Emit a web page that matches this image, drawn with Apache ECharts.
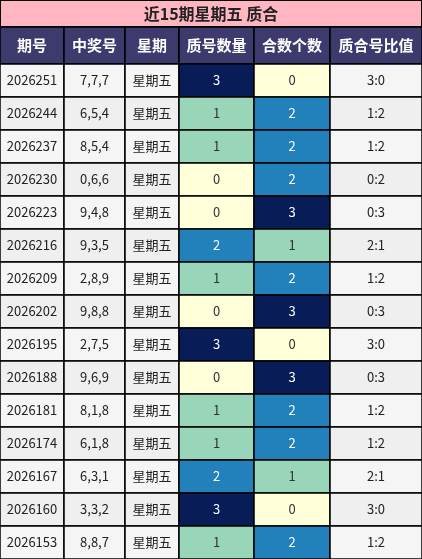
<!DOCTYPE html><html><head><meta charset="utf-8">
<script src="https://cdn.jsdelivr.net/npm/echarts@6/dist/echarts.min.js"></script>
<style>html,body{margin:0;padding:0;background:#fff}#c{width:422px;height:559px}</style></head><body><div id="c"></div>
<script>
const title = '近15期星期五 质合';
const headers = ['期号','中奖号','星期','质号数量','合数个数','质合号比值'];
const periods = ['2026251','2026244','2026237','2026230','2026223','2026216','2026209','2026202','2026195','2026188','2026181','2026174','2026167','2026160','2026153'];
const numbers = ['7,7,7','6,5,4','8,5,4','0,6,6','9,4,8','9,3,5','2,8,9','9,8,8','2,7,5','9,6,9','8,1,8','6,1,8','6,3,1','3,3,2','8,8,7'];
const weekday = '星期五';
const primeCount = [3,1,1,0,0,2,1,0,3,0,1,1,2,3,1];
const compositeCount = [0,2,2,2,3,1,2,3,0,3,2,2,1,0,2];

const colX = [0,64,125,179,254,330,422];
const titleH = 27, headH = 37, rowH = 33;
const heat = ['#ffffd9','#98d5b9','#2281bb','#081d58'];
const heatText = ['#333','#333','#fff','#fff'];
const font = '"Noto Sans CJK SC","Liberation Sans",sans-serif';

const cells = [];
headers.forEach((h,c)=>cells.push({r:-1,c,text:h}));
periods.forEach((p,r)=>{
  const ratio = primeCount[r]+':'+compositeCount[r];
  [p,numbers[r],weekday,primeCount[r],compositeCount[r],ratio].forEach((v,c)=>cells.push({r,c,text:String(v),val:v}));
});

const chart = echarts.init(document.getElementById('c'),null,{renderer:'canvas'});
chart.setOption({
  animation:false,
  graphic:[
    {type:'rect',shape:{x:0,y:0,width:422,height:titleH},style:{fill:'#ffb6c1',stroke:'#000',lineWidth:2}},
    {type:'text',x:211,y:titleH/2,style:{text:title,fill:'#222',font:'bold 16px '+font,align:'center',verticalAlign:'middle'}}
  ],
  series:[{
    type:'custom',coordinateSystem:'none',
    data:cells.map((d,i)=>i),
    renderItem:(params,api)=>{
      const d = cells[api.value(0)];
      const x = colX[d.c], w = colX[d.c+1]-colX[d.c];
      let y,h,fill,tc='#222',fw='normal',fs=13;
      if(d.r<0){y=titleH;h=headH;fill='#3d3b6e';tc='#fff';fw='bold';fs=15;}
      else{
        y=titleH+headH+d.r*rowH;h=rowH;
        fill = d.r%2===0?'#f5f5f5':'#efefef';
        if(d.c===3||d.c===4){fill=heat[d.val];tc=heatText[d.val];}
      }
      return {type:'group',children:[
        {type:'rect',shape:{x,y,width:w,height:h},style:{fill,stroke:'#000',lineWidth:1.5}},
        {type:'text',x:x+w/2,y:y+h/2,style:{text:d.text,fill:tc,font:fw+' '+fs+'px '+font,align:'center',verticalAlign:'middle'}}
      ]};
    }
  }]
});
</script></body></html>
